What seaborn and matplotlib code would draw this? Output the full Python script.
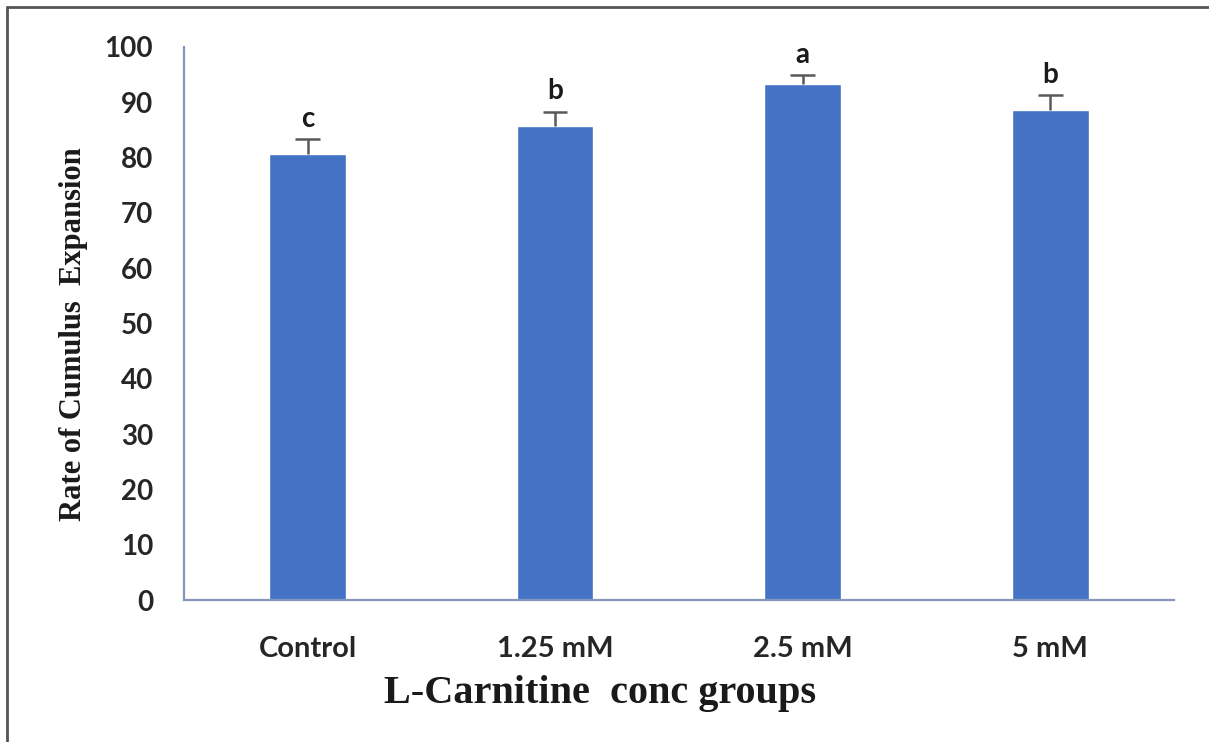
import matplotlib
matplotlib.use("Agg")
import matplotlib.pyplot as plt
import seaborn as sns
import pandas as pd
from matplotlib.lines import Line2D

groups = ["Control", "1.25 mM", "2.5 mM", "5 mM"]
means = [80.6, 85.7, 93.2, 88.5]
errors = [2.7, 2.6, 1.7, 2.7]
letters = ["c", "b", "a", "b"]

df = pd.DataFrame({"group": groups, "rate": means})

sns.set_style("white")
fig = plt.figure(figsize=(12.09, 7.42), dpi=100)
ax = fig.add_axes([0.152, 0.191, 0.819, 0.746])

bar_color = "#4472C4"
sns.barplot(data=df, x="group", y="rate", color=bar_color, width=0.31,
            saturation=1, ax=ax)

# upper-only error bars, as in the original
xs = list(range(len(groups)))
tops = [m + e for m, e in zip(means, errors)]
ax.vlines(xs, means, tops, color="#595959", linewidth=1.8, zorder=3)
ax.hlines(tops, [x - 0.05 for x in xs], [x + 0.05 for x in xs],
          color="#595959", linewidth=1.8, zorder=3)

for i, (t_y, t) in enumerate(zip(tops, letters)):
    ax.text(i, t_y + 1.3, t, ha="center", va="bottom", fontsize=20,
            fontweight="bold", family="Lato", color="#1a1a1a")

ax.set_ylim(0, 100)
ax.set_xlim(-0.5, 3.5)
ax.set_yticks(range(0, 101, 10))

spine_color = "#8497B8"
for s in ["top", "right"]:
    ax.spines[s].set_visible(False)
for s in ["left", "bottom"]:
    ax.spines[s].set_color(spine_color)
    ax.spines[s].set_linewidth(1.6)
ax.tick_params(axis="y", direction="out", length=8, width=1.4, color=spine_color,
               pad=14)
ax.tick_params(axis="x", length=0, pad=26)

for lab in ax.get_yticklabels():
    lab.set_fontsize(20)
    lab.set_fontweight("bold")
    lab.set_family("Lato")
    lab.set_color("#262626")
for lab in ax.get_xticklabels():
    lab.set_fontsize(21)
    lab.set_fontweight("bold")
    lab.set_family("Lato")
    lab.set_color("#262626")

ax.set_xlabel("L-Carnitine  conc groups", fontsize=29, fontweight="bold",
              family="Liberation Serif", color="#1a1a1a")
ax.xaxis.set_label_coords(0.42, -0.135)
ax.set_ylabel("Rate of Cumulus  Expansion", fontsize=22, fontweight="bold",
              family="Liberation Serif", color="#1a1a1a")
ax.yaxis.set_label_coords(-0.097, 0.48)

# frame around the picture
fig.add_artist(Line2D([0.006, 0.006], [0.0, 0.99], transform=fig.transFigure,
                      color="#555555", linewidth=2))
fig.add_artist(Line2D([0.006, 1.0], [0.99, 0.99], transform=fig.transFigure,
                      color="#555555", linewidth=2))

fig.savefig("out.png", dpi=100)
